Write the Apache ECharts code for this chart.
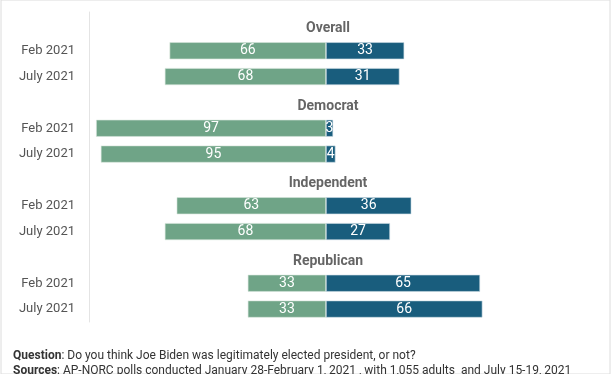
<!DOCTYPE html>
<html>
<head>
<meta charset="utf-8">
<script src="https://cdn.jsdelivr.net/npm/echarts@6/dist/echarts.min.js"></script>
<style>
html,body{margin:0;padding:0;background:#fff;}
#c{width:612px;height:374px;}
</style>
</head>
<body>
<div id="c"></div>
<script>
const groups = ['Overall', 'Democrat', 'Independent', 'Republican'];
const waves = ['Feb 2021', 'July 2021'];
const legitimate = [66, 68, 97, 95, 63, 68, 33, 33];
const notLegitimate = [33, 31, 3, 4, 36, 27, 65, 66];
const questionText = 'Do you think Joe Biden was legitimately elected president, or not?';
const sourcesText = 'AP-NORC polls conducted January 28-February 1, 2021 , with 1,055 adults  and July 15-19, 2021';

const GREEN = '#6fa487';
const BLUE = '#195d7d';

const categories = [];
const greenData = [];
const blueData = [];
const headerData = [];
groups.forEach((g, gi) => {
  categories.push(g + '|');
  greenData.push('-');
  blueData.push('-');
  headerData.push({ value: [0, g + '|'], name: g });
  waves.forEach((w, wi) => {
    const k = gi * waves.length + wi;
    categories.push(g + '|' + w);
    greenData.push(-legitimate[k]);
    blueData.push(notLegitimate[k]);
  });
});

const chart = echarts.init(document.getElementById('c'), null, { renderer: 'canvas' });
const font = 'Roboto, "Liberation Sans Narrow", sans-serif';

chart.setOption({
  animation: false,
  backgroundColor: '#fff',
  textStyle: { fontFamily: font },
  grid: { left: 89, right: 49, top: 12, bottom: 52, containLabel: false },
  xAxis: {
    type: 'value', min: -100, max: 100, show: false
  },
  yAxis: {
    type: 'category',
    data: categories,
    inverse: true,
    axisLine: { show: true, onZero: false, lineStyle: { color: '#e4e4e4', width: 1 } },
    axisTick: { show: false },
    splitLine: { show: false },
    axisLabel: {
      margin: 14,
      color: '#555',
      fontSize: 13,
      fontFamily: font,
      formatter: v => v.split('|')[1]
    }
  },
  title: {
    left: 8, top: 343,
    text: '{b|Question}{n|: ' + questionText + '}\n{b|Sources}{n|: ' + sourcesText + '}',
    textStyle: {
      fontWeight: 'normal',
      rich: {
        b: { fontWeight: 'bold', fontSize: 12, color: '#333', fontFamily: font, lineHeight: 15 },
        n: { fontWeight: 'normal', fontSize: 12, color: '#333', fontFamily: font, lineHeight: 15 }
      }
    }
  },
  series: [
    {
      type: 'bar', stack: 'a', data: greenData, barWidth: 17,
      itemStyle: { color: GREEN, borderColor: '#d6e6dc', borderWidth: 0.6 },
      label: { show: true, position: 'inside', color: '#fff', fontSize: 14, fontFamily: font,
        formatter: p => Math.abs(p.value) }
    },
    {
      type: 'bar', stack: 'a', data: blueData, barWidth: 17,
      itemStyle: { color: BLUE, borderColor: '#cfdde5', borderWidth: 0.6 },
      label: { show: true, position: 'inside', color: '#fff', fontSize: 14, fontFamily: font,
        formatter: p => p.value }
    },
    {
      type: 'scatter', data: headerData, symbolSize: 0, silent: true,
      label: { show: true, position: 'inside', formatter: p => p.name,
        color: '#3f3f3f', fontWeight: 'bold', fontSize: 14, fontFamily: font, offset: [2, 4] }
    }
  ],
  graphic: [
    { type: 'rect', shape: { x: 1, y: 0, width: 609, height: 374 },
      style: { fill: 'none', stroke: '#dcdcdc', lineWidth: 1 }, silent: true }
  ]
});
</script>
</body>
</html>
